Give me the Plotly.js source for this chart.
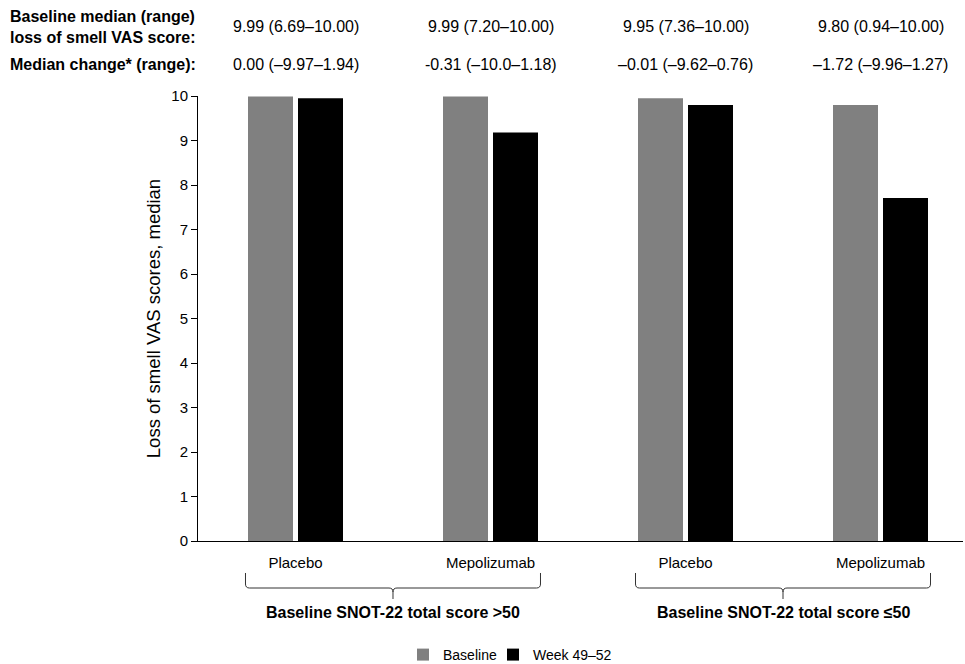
<!DOCTYPE html>
<html>
<head>
<meta charset="utf-8">
<script src="https://cdn.plot.ly/plotly-3.0.1.min.js"></script>
<style>html,body{margin:0;padding:0;background:#fff;}#chart{width:965px;height:664px;}</style>
</head>
<body>
<div id="chart"></div>
<script>
var categories = ['Placebo', 'Mepolizumab', 'Placebo', 'Mepolizumab'];
var baselineValues = [9.99, 9.99, 9.95, 9.80];
var weekValues = [9.95, 9.18, 9.80, 7.71];
var baselineText = ['9.99 (6.69\u201310.00)', '9.99 (7.20\u201310.00)', '9.95 (7.36\u201310.00)', '9.80 (0.94\u201310.00)'];
var changeText = ['0.00 (\u20139.97\u20131.94)', '-0.31 (\u201310.0\u20131.18)', '\u20130.01 (\u20139.62\u20130.76)', '\u20131.72 (\u20139.96\u20131.27)'];
var groupLabels = ['Baseline SNOT-22 total score >50', 'Baseline SNOT-22 total score \u226450'];
var seriesNames = ['Baseline', 'Week 49\u201352'];
var yTitle = 'Loss of smell VAS scores, median';
var rowLabel1 = '<b>Baseline median (range)<br>loss of smell VAS score:</b>';
var rowLabel2 = '<b>Median change* (range):</b>';

var FONT = 'Arial, "Liberation Sans", Helvetica, sans-serif';
var W = 965, H = 664;
var M = {l: 198, r: 2, t: 96, b: 123, autoexpand: false};
var pw = W - M.l - M.r, ph = H - M.t - M.b;
var xr = [-0.5, -0.5 + pw / 195];
var idx = categories.map(function (c, i) { return i; });

function px2x(px) { return (px - M.l) / pw; }
function py2y(py) { return (H - M.b - py) / ph; }
function d2px(d) { return M.l + (d - xr[0]) / (xr[1] - xr[0]) * pw; }

var traces = [
  {type: 'bar', x: idx, y: baselineValues, name: seriesNames[0], marker: {color: '#808080'}, legend: 'legend'},
  {type: 'bar', x: idx, y: weekValues, name: seriesNames[1], marker: {color: '#000000'}, legend: 'legend2'}
];

var annotations = [];
annotations.push({xref: 'paper', yref: 'paper', x: px2x(8), y: py2y(27), xanchor: 'left', yanchor: 'middle', align: 'left', showarrow: false, text: rowLabel1, font: {family: FONT, size: 16, color: '#000'}});
annotations.push({xref: 'paper', yref: 'paper', x: px2x(8), y: py2y(64), xanchor: 'left', yanchor: 'middle', align: 'left', showarrow: false, text: rowLabel2, font: {family: FONT, size: 16, color: '#000'}});
idx.forEach(function (i) {
  annotations.push({xref: 'x', yref: 'paper', x: i, y: py2y(27), xanchor: 'center', yanchor: 'middle', showarrow: false, text: baselineText[i], font: {family: FONT, size: 16, color: '#000'}});
  annotations.push({xref: 'x', yref: 'paper', x: i, y: py2y(64), xanchor: 'center', yanchor: 'middle', showarrow: false, text: changeText[i], font: {family: FONT, size: 16, color: '#000'}});
});

var shapes = [];
var halfGroup = 100 / 195 / 2;
[0, 1].forEach(function (g) {
  var a = g * 2, b = g * 2 + 1;
  var x1 = d2px(a - halfGroup), x2 = d2px(b + halfGroup), xm = d2px((a + b) / 2);
  var y0 = 573, y1 = 588, y2 = 599, r = 4;
  function P(x, y) { return px2x(x).toFixed(5) + ',' + py2y(y).toFixed(5); }
  var path = 'M' + P(x1, y0) + ' L' + P(x1, y1 - r) + ' Q' + P(x1, y1) + ' ' + P(x1 + r, y1) +
    ' L' + P(xm - r, y1) + ' Q' + P(xm, y1) + ' ' + P(xm, y1 + r) + ' L' + P(xm, y2) +
    ' M' + P(xm, y1 + r) + ' Q' + P(xm, y1) + ' ' + P(xm + r, y1) +
    ' L' + P(x2 - r, y1) + ' Q' + P(x2, y1) + ' ' + P(x2, y1 - r) + ' L' + P(x2, y0);
  shapes.push({type: 'path', xref: 'paper', yref: 'paper', path: path, line: {color: '#333', width: 1}});
  annotations.push({xref: 'x', yref: 'paper', x: (a + b) / 2, y: py2y(612), xanchor: 'center', yanchor: 'middle', showarrow: false, text: '<b>' + groupLabels[g] + '</b>', font: {family: FONT, size: 16, color: '#000'}});
});

function legendAt(px) {
  return {orientation: 'h', xref: 'paper', yref: 'paper', x: px2x(px), xanchor: 'left', y: py2y(655), yanchor: 'middle', font: {family: FONT, size: 14, color: '#000'}, itemwidth: 30, bgcolor: 'rgba(0,0,0,0)'};
}

var layout = {
  width: W, height: H,
  margin: M,
  paper_bgcolor: '#fff', plot_bgcolor: '#fff',
  font: {family: FONT, size: 14, color: '#000'},
  barmode: 'group', bargap: 1 - 100 / 195, bargroupgap: 0.1,
  showlegend: true,
  legend: legendAt(403),
  legend2: legendAt(493),
  xaxis: {range: xr, tickmode: 'array', tickvals: idx, ticktext: categories, showline: true, linecolor: '#000', linewidth: 1, ticks: 'outside', ticklen: 8, tickcolor: 'rgba(0,0,0,0)', showgrid: false, zeroline: false, tickfont: {family: FONT, size: 15}, fixedrange: true},
  yaxis: {range: [0, 10], dtick: 1, tick0: 0, showline: true, linecolor: '#000', linewidth: 1, ticks: 'outside', ticklen: 6, tickcolor: '#000', showgrid: false, zeroline: false, tickfont: {family: FONT, size: 15},
    title: {text: yTitle, font: {family: FONT, size: 18.5}, standoff: 5}, automargin: false},
  shapes: shapes,
  annotations: annotations
};

Plotly.newPlot('chart', traces, layout, {displayModeBar: false, staticPlot: true});
</script>
</body>
</html>
